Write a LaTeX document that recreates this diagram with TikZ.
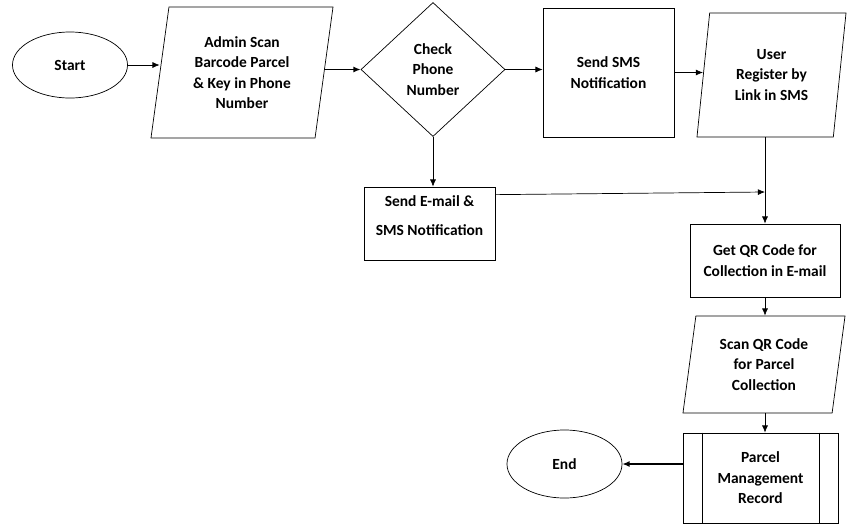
\documentclass[tikz,border=0pt]{standalone}
\usepackage{fontspec}
\setmainfont{Carlito}
\usetikzlibrary{shapes.geometric,arrows.meta}

\begin{document}
\begin{tikzpicture}[x=0.025cm, y=-0.025cm,
  font=\fontsize{11}{14.5}\selectfont\bfseries,
  terminal/.style={ellipse, draw, line width=0.5pt, inner sep=0pt},
  process/.style={rectangle, draw, line width=0.5pt, align=center, inner sep=0pt},
  inputbox/.style={trapezium, trapezium left angle=76, trapezium right angle=104,
    trapezium stretches body, draw, line width=0.5pt, align=center, inner sep=0pt},
  decision/.style={diamond, draw, line width=0.5pt, align=center, inner sep=0pt},
  arrow/.style={-{Latex[length=1.8mm,width=1.5mm]}, line width=0.5pt},
  thickarrow/.style={arrow, line width=0.9pt}]

\useasboundingbox (0,0) rectangle (850,528);

% Top row
\node[terminal, minimum width=2.875cm, minimum height=1.65cm] (start) at (70,65) {Start};
\node[inputbox, minimum width=4.55cm, minimum height=3.275cm] (admin) at (242,72.5) {Admin Scan\\Barcode Parcel\\\& Key in Phone\\Number};
\node[decision, minimum width=3.6cm, minimum height=3.35cm] (check) at (433,69.5) {Check\\Phone\\Number};
\node[process, minimum width=3.275cm, minimum height=3.225cm] (sms) at (608.5,72.5) {Send SMS\\Notification};
\node[inputbox, minimum width=3.725cm, minimum height=3.1cm] (user) at (771.5,75) {User\\Register by\\Link in SMS};

% Middle and bottom
\node[process, minimum width=3.275cm, minimum height=1.825cm, text depth=0.38cm] (email) at (429.5,223.5) {Send E-mail \&\\[6pt]SMS Notification};
\node[process, minimum width=3.75cm, minimum height=1.825cm] (qr) at (765,260.5) {Get QR Code for\\Collection in E-mail};
\node[inputbox, minimum width=4.05cm, minimum height=2.425cm] (scan) at (764,364.5) {Scan QR Code\\for Parcel\\Collection};
\node[process, minimum width=3.875cm, minimum height=2.25cm] (record) at (760.5,478) {Parcel\\Management\\Record};
\draw[line width=0.5pt] ([xshift=0.5cm]record.north west) -- ([xshift=0.5cm]record.south west);
\draw[line width=0.5pt] ([xshift=-0.475cm]record.north east) -- ([xshift=-0.475cm]record.south east);
\node[terminal, minimum width=2.875cm, minimum height=1.7cm] (end) at (564.5,464) {End};

\coordinate (merge) at (765,192);

% Connectors
\draw[arrow] (start.east) -- (start.east -| admin.west);
\draw[thickarrow] (check.west -| admin.east) -- (check.west);
\draw[arrow] (check.east) -- (check.east -| sms.west);
\draw[arrow] (sms.east) -- (sms.east -| user.west);
\draw[arrow] (check.south) -- (check.south |- email.north);
\draw[arrow] ([yshift=-0.2cm]email.north east) -- (merge);
\draw[arrow] (qr.north |- user.south) -- (qr.north);
\draw[arrow] (qr.south) -- (qr.south |- scan.north);
\draw[arrow] (scan.south -| qr.south) -- (record.north -| qr.south);
\draw[thickarrow] (end.east -| record.west) -- (end.east);

\end{tikzpicture}
\end{document}
